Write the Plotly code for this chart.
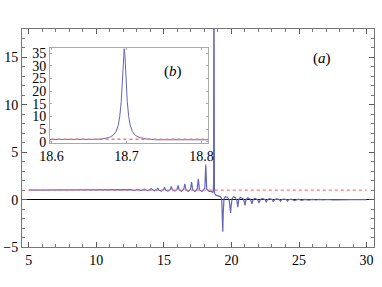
import plotly.graph_objects as go

# ---- data ----
curve_x = [5.0, 7.0, 9.0, 10.5, 11.6, 12.0, 12.3, 12.55, 12.8, 13.05, 13.3, 13.55, 13.8, 14.05, 14.3,
           14.48, 14.55, 14.62, 14.8, 14.98, 15.05, 15.12, 15.3, 15.47, 15.55, 15.63, 15.8, 15.97,
           16.05, 16.13, 16.3, 16.47, 16.55, 16.63, 16.8, 16.97, 17.05, 17.13, 17.3, 17.47, 17.55,
           17.63, 17.82, 18.03, 18.1, 18.17, 18.35, 18.5,
           18.600, 18.620, 18.640, 18.655, 18.667, 18.677, 18.682, 18.686, 18.689, 18.691, 18.693,
           18.694, 18.695, 18.696, 18.697, 18.698, 18.699, 18.700, 18.701, 18.703, 18.705, 18.708,
           18.712, 18.717, 18.727, 18.74, 18.76, 18.79, 18.82,
           18.9, 19.05, 19.2, 19.28, 19.33, 19.36, 19.39, 19.45, 19.55, 19.7, 19.83, 19.9, 19.94,
           19.98, 20.05, 20.15, 20.3, 20.4, 20.47, 20.53, 20.65, 20.85, 20.94, 21.0, 21.06, 21.2,
           21.4, 21.46, 21.52, 21.58, 21.72, 21.93, 22.05, 22.12, 22.27, 22.5, 22.58, 22.65, 22.8,
           23.03, 23.1, 23.18, 23.35, 23.56, 23.63, 23.7, 23.88, 24.08, 24.15, 24.23, 24.42, 24.68,
           24.95, 25.2, 25.45, 25.72, 26.0, 26.25, 26.5, 26.78, 27.1, 27.5, 28.0, 28.5, 29.0, 30.0]
curve_y = [1.0, 1.0, 1.0, 1.01, 0.99, 1.02, 0.97, 1.05, 0.96, 1.07, 0.95, 1.1, 0.94, 1.14, 0.93,
           1.05, 1.22, 1.02, 0.91, 1.05, 1.3, 1.02, 0.9, 1.05, 1.4, 1.02, 0.89, 1.05,
           1.5, 1.02, 0.88, 1.1, 1.65, 1.05, 0.87, 1.1, 1.85, 1.05, 0.86, 1.15, 2.2,
           1.05, 0.85, 1.2, 3.7, 1.1, 0.88, 0.9,
           0.75, 0.75, 0.8, 0.95, 1.1, 1.7, 2.5, 4.0, 6.5, 9.9, 16.0,
           21.2, 27.7, 34.0, 36.8, 34.0, 27.7, 21.2, 16.0, 9.9, 6.5, 4.0,
           2.5, 1.7, 1.1, 0.8, 0.65, 0.55, 0.5,
           0.45, 0.4, 0.3, 0.05, -1.5, -3.4, -1.5, 0.1, 0.3, 0.25, 0.0, -0.8, -1.4,
           -0.6, 0.1, 0.3, 0.2, -0.1, -0.8, -0.1, 0.25, 0.1, -0.2, -0.6, -0.1, 0.2,
           0.05, -0.2, -0.45, -0.1, 0.15, 0.0, -0.35, -0.05, 0.12, 0.0, -0.28, -0.03, 0.1,
           0.0, -0.22, -0.02, 0.08, 0.0, -0.18, -0.02, 0.06, 0.0, -0.14, -0.01, 0.05, -0.11,
           0.04, -0.08, 0.03, -0.06, 0.02, -0.04, 0.02, -0.03, 0.01, -0.02, 0.01, -0.01, 0.0, 0.0]

ref_x = [5.0, 30.0]
ref_y = [1.0, 1.0]
inset_ref_x = [18.6, 18.81]
inset_ref_y = [1.0, 1.0]

main_xticks = [5, 10, 15, 20, 25, 30]
main_yticks = [-5, 0, 5, 10, 15]
inset_xticks = [18.6, 18.7, 18.8]
inset_xlabels = ["18.6", "18.7", "18.8"]
inset_yticks = [0, 5, 10, 15, 20, 25, 30, 35]

blue = "rgb(100,100,185)"
red = "rgb(245,120,120)"
font_family = "Liberation Serif"

W, H = 382, 287
ML, MT = 22, 29
PW, PH = 352, 218

fig = go.Figure()
fig.add_trace(go.Scatter(x=curve_x, y=curve_y, mode="lines", line=dict(color=blue, width=1.2),
                         xaxis="x", yaxis="y", showlegend=False, hoverinfo="skip"))
fig.add_trace(go.Scatter(x=ref_x, y=ref_y, mode="lines", line=dict(color=red, width=1.4, dash="3px,3px"),
                         xaxis="x", yaxis="y", showlegend=False, hoverinfo="skip"))
fig.add_trace(go.Scatter(x=curve_x, y=curve_y, mode="lines", line=dict(color=blue, width=1.0),
                         xaxis="x2", yaxis="y2", showlegend=False, hoverinfo="skip"))
fig.add_trace(go.Scatter(x=inset_ref_x, y=inset_ref_y, mode="lines", line=dict(color=red, width=1.3, dash="3px,3px"),
                         xaxis="x2", yaxis="y2", showlegend=False, hoverinfo="skip"))

axis_common = dict(showgrid=False, showline=True, linecolor="rgb(120,120,120)", linewidth=1,
                   ticks="inside", tickcolor="rgb(90,90,90)", mirror="ticks", automargin=False,
                   tickfont=dict(family=font_family, size=14, color="black"))
inset_common = {**axis_common, "linecolor": "rgb(170,170,170)", "tickcolor": "rgb(170,170,170)"}

fig.update_layout(
    template="none",
    width=W, height=H, autosize=False,
    margin=dict(l=ML, r=W - ML - PW, t=MT, b=H - MT - PH, pad=0),
    paper_bgcolor="white", plot_bgcolor="white",
    font=dict(family=font_family, size=14, color="black"),
    xaxis=dict(domain=[0, 1], range=[4.5, 30.55], tickvals=main_xticks, ticklen=5,
               zeroline=False, minor=dict(dtick=1, ticklen=3, ticks="inside", tickcolor="rgb(120,120,120)"),
               anchor="y", **axis_common),
    yaxis=dict(domain=[0, 1], range=[-5, 18], tickvals=main_yticks, ticklen=5,
               zeroline=True, zerolinecolor="black", zerolinewidth=1,
               minor=dict(dtick=1, ticklen=3, ticks="inside", tickcolor="rgb(120,120,120)"),
               anchor="x", **axis_common),
    xaxis2=dict(domain=[0.0795, 0.529], range=[18.598, 18.809], tickvals=inset_xticks,
                ticktext=inset_xlabels, ticklen=2, zeroline=False, anchor="y2", **inset_common),
    yaxis2=dict(domain=[0.4757, 0.9142], range=[-0.6, 37.2], tickvals=inset_yticks,
                ticklen=2, zeroline=False, anchor="x2", **inset_common),
)

# annotation positions given in window pixels, converted to paper coordinates
ann_px = [("(<i>a</i>)", 333, 48), ("(<i>b</i>)", 173, 61)]
for text, px, py in ann_px:
    fig.add_annotation(text=text, x=(px - ML) / PW, y=(MT + PH - py) / PH, xref="paper", yref="paper",
                       showarrow=False, font=dict(family=font_family, size=15, color="black"))

# remove the page's default body margin so the figure sits at the window's corner
fig.write_html("out.html", config={"displayModeBar": False, "staticPlot": True},
               post_script="document.body.style.margin='0';document.body.style.overflow='hidden';")
